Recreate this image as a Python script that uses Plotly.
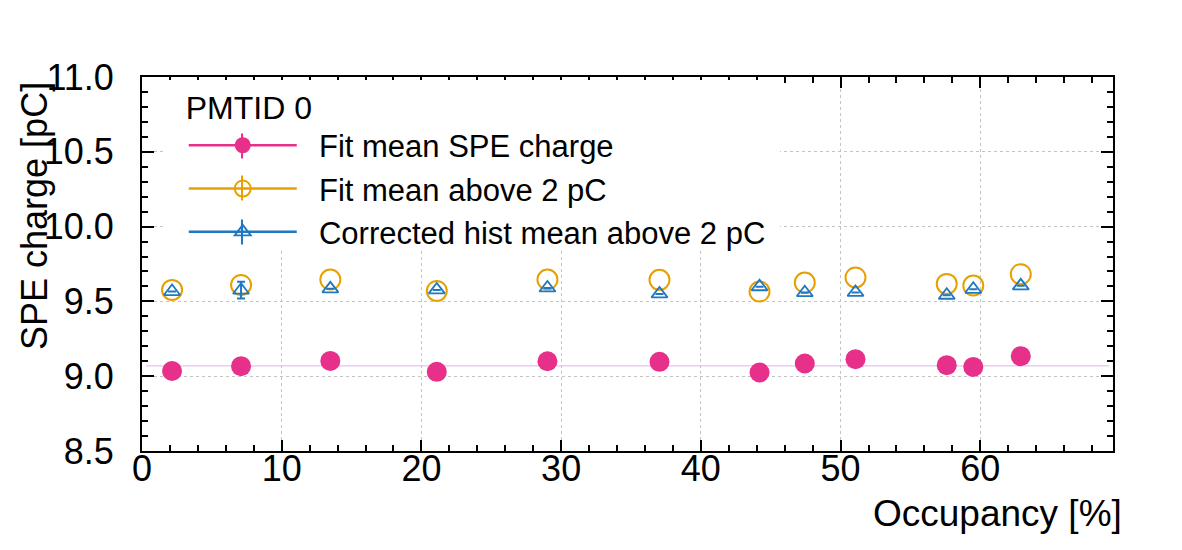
import plotly.graph_objects as go

# ---- data ----
occupancy = [2.15, 7.09, 13.48, 21.1, 29.02, 37.04, 44.2, 47.44, 51.07, 57.6, 59.5, 62.9]
fit_mean_spe = [9.035, 9.067, 9.102, 9.029, 9.100, 9.096, 9.025, 9.085, 9.114, 9.074, 9.062, 9.134]
fit_mean_above2 = [9.577, 9.610, 9.646, 9.570, 9.646, 9.644, 9.566, 9.626, 9.660, 9.617, 9.606, 9.682]
hist_mean_above2 = [9.566, 9.575, 9.584, 9.577, 9.590, 9.550, 9.598, 9.558, 9.560, 9.541, 9.581, 9.604]
# only the error bar that sticks out of its marker is visible in the reference
hist_mean_above2_err = [None, 0.056, None, None, None, None, None, None, None, None, None, None]
const_fit_x = [0.3, 69.2]
const_fit_y = [9.069, 9.069]

series_names = ["Fit mean SPE charge", "Fit mean above 2 pC", "Corrected hist mean above 2 pC"]
legend_header = "PMTID 0"
x_title = "Occupancy [%]"
y_title = "SPE charge [pC]"
x_ticks = [0, 10, 20, 30, 40, 50, 60]
y_ticks = [8.5, 9.0, 9.5, 10.0, 10.5, 11.0]

PINK = "#e6308a"
ORANGE = "#e6a100"
BLUE = "#1f78c0"
FONT = "Liberation Sans, Arial, Helvetica, sans-serif"
GAP = "\u00a0\u00a0"

W, H = 1182, 550
ML, MR, MT, MB = 142, 69, 77, 99
PW, PH = W - ML - MR, H - MT - MB


def px_x(p):
    return (p - ML) / PW


def px_y(p):
    return 1 - (p - MT) / PH


fig = go.Figure()

# constant fit line
fig.add_trace(go.Scatter(x=const_fit_x, y=const_fit_y, mode="lines",
                         line=dict(color="#dcb6e6", width=1), showlegend=False,
                         hoverinfo="skip"))

fig.add_trace(go.Scatter(x=occupancy, y=fit_mean_above2, mode="markers",
                         marker=dict(symbol="circle-open", size=20, color=ORANGE,
                                     line=dict(width=2, color=ORANGE)),
                         showlegend=False))
fig.add_trace(go.Scatter(x=occupancy, y=hist_mean_above2, mode="markers",
                         error_y=dict(type="data", array=hist_mean_above2_err, color=BLUE,
                                      thickness=2, width=4),
                         marker=dict(symbol="triangle-up-open", size=14, color=BLUE,
                                     line=dict(width=1.8, color=BLUE)),
                         showlegend=False))
fig.add_trace(go.Scatter(x=occupancy, y=fit_mean_spe, mode="markers",
                         marker=dict(symbol="circle", size=20, color=PINK,
                                     line=dict(width=0)),
                         showlegend=False))

# legend-only entries (line + marker like ROOT "LPE")
legend_specs = [
    (series_names[0], PINK, dict(symbol="circle", size=19, color=PINK, line=dict(width=0))),
    (series_names[1], ORANGE, dict(symbol="circle-open", size=20, color=ORANGE, line=dict(width=2, color=ORANGE))),
    (series_names[2], BLUE, dict(symbol="triangle-up-open", size=14, color=BLUE, line=dict(width=1.8, color=BLUE))),
]
for name, col, mk in legend_specs:
    fig.add_trace(go.Scatter(x=[None], y=[None], mode="lines+markers", name=GAP + name,
                             line=dict(color=col, width=2.5), marker=mk))

axis_common = dict(
    showline=True, linecolor="black", linewidth=2, mirror="ticks",
    ticks="inside", tickcolor="black", tickwidth=1.5,
    showgrid=True, gridcolor="#c4c4c4", griddash="dot", gridwidth=1,
    zeroline=False,
    tickfont=dict(family=FONT, size=36, color="black"),
)

fig.update_xaxes(range=[0, 69.5], tickvals=x_ticks, ticklen=11,
                 minor=dict(ticks="inside", dtick=2, ticklen=6, tickcolor="black",
                            tickwidth=1.5, showgrid=False),
                 ticklabelstandoff=-15, **axis_common)
fig.update_yaxes(range=[8.5, 11.0], tickvals=y_ticks, tickformat=".1f", ticklen=12,
                 minor=dict(ticks="inside", dtick=0.1, ticklen=6, tickcolor="black",
                            tickwidth=1.5, showgrid=False),
                 ticklabelstandoff=19, **axis_common)

# white legend panel (hides the grid) + small error bars on the legend symbols
shapes = [
    dict(type="rect", xref="paper", yref="paper", layer="above",
         x0=px_x(165), x1=px_x(780), y0=px_y(248), y1=px_y(80),
         fillcolor="white", line=dict(width=0)),
]
leg_sym_x = px_x(242)
for yc, col in [(146, PINK), (188, ORANGE), (232, BLUE)]:
    shapes.append(dict(type="line", xref="paper", yref="paper", layer="above",
                       x0=leg_sym_x, x1=leg_sym_x, y0=px_y(yc + 12.5), y1=px_y(yc - 12.5),
                       line=dict(color=col, width=2)))

fig.update_layout(
    width=W, height=H,
    margin=dict(l=ML, r=MR, t=MT, b=MB, autoexpand=False),
    paper_bgcolor="white", plot_bgcolor="white",
    font=dict(family=FONT, color="black"),
    showlegend=True,
    legend=dict(
        x=0.043, y=1.0, xanchor="left", yanchor="top",
        bgcolor="rgba(0,0,0,0)", borderwidth=0,
        font=dict(family=FONT, size=31, color="black"),
        title=dict(text=legend_header, font=dict(family=FONT, size=32, color="black")),
        itemwidth=108, tracegroupgap=0, traceorder="normal",
    ),
    shapes=shapes,
    annotations=[
        dict(text=x_title, xref="paper", yref="paper", x=px_x(1124),
             y=px_y(513), xanchor="right", yanchor="middle",
             showarrow=False, font=dict(family=FONT, size=37, color="black")),
        dict(text=y_title, xref="paper", yref="paper", x=px_x(34),
             y=px_y(80), xanchor="center", yanchor="top", textangle=-90,
             showarrow=False, font=dict(family=FONT, size=36, color="black")),
    ],
)

fig.write_html("out.html")
